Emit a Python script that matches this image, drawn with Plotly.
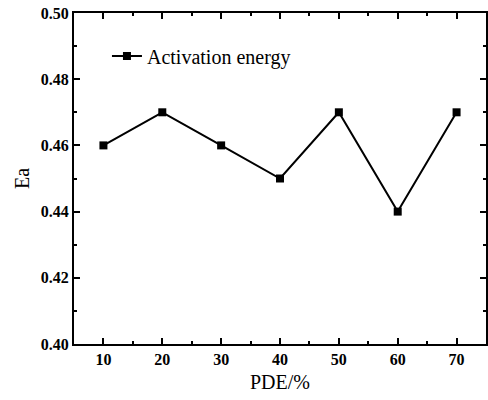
import plotly.graph_objects as go

pde = [10, 20, 30, 40, 50, 60, 70]
ea = [0.46, 0.47, 0.46, 0.45, 0.47, 0.44, 0.47]
x_ticks = [10, 20, 30, 40, 50, 60, 70]
y_ticks = [0.40, 0.42, 0.44, 0.46, 0.48, 0.50]

serif = "Liberation Serif"

fig = go.Figure()
fig.add_trace(go.Scatter(
    x=pde, y=ea, mode="lines+markers", name="Activation energy",
    line=dict(color="black", width=2),
    marker=dict(symbol="square", size=8, color="black"),
))

axis_common = dict(
    showline=True, linecolor="black", linewidth=2, mirror="allticks",
    ticks="inside", ticklen=6, tickwidth=2, tickcolor="black",
    showgrid=False, zeroline=False, automargin=False,
    tickfont=dict(family=serif, size=16, color="black", weight="bold"),
)

fig.update_xaxes(
    range=[5, 75], tickvals=x_ticks, ticktext=[str(v) for v in x_ticks],
    title=dict(text="PDE/%", font=dict(family=serif, size=20, color="black"), standoff=8),
    minor=dict(ticks="inside", ticklen=3, tickwidth=2, tickcolor="black", dtick=5, tick0=5),
    **axis_common,
)
fig.update_yaxes(
    range=[0.40, 0.50], tickvals=y_ticks, ticktext=[f"{v:.2f}" for v in y_ticks],
    title=dict(text="Ea", font=dict(family=serif, size=20, color="black"), standoff=6),
    minor=dict(ticks="inside", ticklen=3, tickwidth=2, tickcolor="black", dtick=0.01, tick0=0.40),
    **axis_common,
)

fig.update_layout(
    width=488, height=400,
    margin=dict(l=74, r=2, t=13, b=56),
    paper_bgcolor="white", plot_bgcolor="white",
    font=dict(family=serif, color="black"),
    showlegend=True,
    legend=dict(x=0.08, y=0.87, xanchor="left", yanchor="middle",
                bgcolor="rgba(0,0,0,0)",
                font=dict(family=serif, size=20, color="black")),
)

fig.write_html(
    "out.html",
    config={"displayModeBar": False},
    post_script="document.body.style.margin='0px';document.body.style.overflow='hidden';",
)
